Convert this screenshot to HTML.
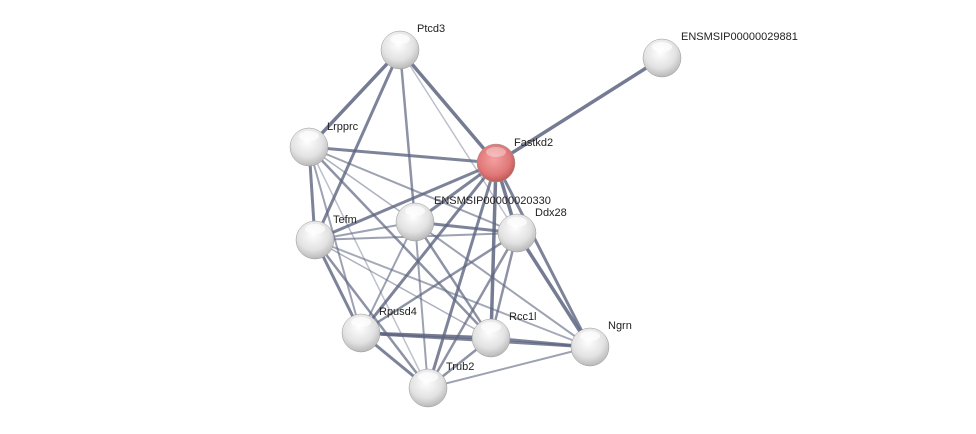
<!DOCTYPE html>
<html><head><style>body{margin:0;background:#fff}svg{display:block}text{font-family:"Liberation Sans",sans-serif;font-size:11px;fill:#222}</style></head><body>
<svg width="976" height="434" viewBox="0 0 976 434" xmlns="http://www.w3.org/2000/svg">
<defs>
<radialGradient id="g" cx="0.45" cy="0.35" r="0.7"><stop offset="0" stop-color="#ffffff"/><stop offset="0.6" stop-color="#e2e2e2"/><stop offset="1" stop-color="#b0b0b0"/></radialGradient>
<radialGradient id="r" cx="0.45" cy="0.4" r="0.7"><stop offset="0" stop-color="#f4a0a0"/><stop offset="0.6" stop-color="#e07878"/><stop offset="1" stop-color="#b04848"/></radialGradient>
</defs>
<g stroke="#5d6580" stroke-linecap="round">
<line x1="496" y1="163" x2="662" y2="58" stroke-width="3.5" opacity="0.85"/>
<line x1="400" y1="50" x2="309" y2="147" stroke-width="3.5" opacity="0.85"/>
<line x1="400" y1="50" x2="496" y2="163" stroke-width="3.5" opacity="0.85"/>
<line x1="400" y1="50" x2="315" y2="240" stroke-width="3" opacity="0.8"/>
<line x1="400" y1="50" x2="415" y2="222" stroke-width="2.5" opacity="0.7"/>
<line x1="400" y1="50" x2="517" y2="233" stroke-width="1.5" opacity="0.4"/>
<line x1="309" y1="147" x2="496" y2="163" stroke-width="3" opacity="0.8"/>
<line x1="309" y1="147" x2="315" y2="240" stroke-width="3" opacity="0.8"/>
<line x1="309" y1="147" x2="415" y2="222" stroke-width="1.5" opacity="0.5"/>
<line x1="309" y1="147" x2="517" y2="233" stroke-width="2" opacity="0.6"/>
<line x1="309" y1="147" x2="361" y2="333" stroke-width="2" opacity="0.6"/>
<line x1="309" y1="147" x2="491" y2="338" stroke-width="2.5" opacity="0.7"/>
<line x1="309" y1="147" x2="428" y2="388" stroke-width="1.5" opacity="0.4"/>
<line x1="496" y1="163" x2="315" y2="240" stroke-width="3" opacity="0.8"/>
<line x1="496" y1="163" x2="415" y2="222" stroke-width="3" opacity="0.8"/>
<line x1="496" y1="163" x2="517" y2="233" stroke-width="3.5" opacity="0.85"/>
<line x1="496" y1="163" x2="361" y2="333" stroke-width="3" opacity="0.8"/>
<line x1="496" y1="163" x2="491" y2="338" stroke-width="3.5" opacity="0.85"/>
<line x1="496" y1="163" x2="428" y2="388" stroke-width="3" opacity="0.8"/>
<line x1="496" y1="163" x2="590" y2="347" stroke-width="3" opacity="0.8"/>
<line x1="315" y1="240" x2="415" y2="222" stroke-width="2" opacity="0.6"/>
<line x1="315" y1="240" x2="517" y2="233" stroke-width="2" opacity="0.6"/>
<line x1="315" y1="240" x2="361" y2="333" stroke-width="3" opacity="0.8"/>
<line x1="315" y1="240" x2="428" y2="388" stroke-width="2.5" opacity="0.7"/>
<line x1="315" y1="240" x2="491" y2="338" stroke-width="1.5" opacity="0.5"/>
<line x1="315" y1="240" x2="590" y2="347" stroke-width="2" opacity="0.55"/>
<line x1="415" y1="222" x2="517" y2="233" stroke-width="3" opacity="0.8"/>
<line x1="415" y1="222" x2="361" y2="333" stroke-width="2" opacity="0.6"/>
<line x1="415" y1="222" x2="491" y2="338" stroke-width="2.5" opacity="0.7"/>
<line x1="415" y1="222" x2="428" y2="388" stroke-width="2" opacity="0.6"/>
<line x1="415" y1="222" x2="590" y2="347" stroke-width="2" opacity="0.6"/>
<line x1="517" y1="233" x2="361" y2="333" stroke-width="2.5" opacity="0.7"/>
<line x1="517" y1="233" x2="491" y2="338" stroke-width="2.5" opacity="0.7"/>
<line x1="517" y1="233" x2="428" y2="388" stroke-width="2.5" opacity="0.7"/>
<line x1="517" y1="233" x2="590" y2="347" stroke-width="3.5" opacity="0.85"/>
<line x1="361" y1="333" x2="491" y2="338" stroke-width="3.5" opacity="0.85"/>
<line x1="361" y1="333" x2="428" y2="388" stroke-width="3" opacity="0.8"/>
<line x1="361" y1="333" x2="590" y2="347" stroke-width="3" opacity="0.8"/>
<line x1="491" y1="338" x2="428" y2="388" stroke-width="2.5" opacity="0.7"/>
<line x1="491" y1="338" x2="590" y2="347" stroke-width="3" opacity="0.8"/>
<line x1="428" y1="388" x2="590" y2="347" stroke-width="2" opacity="0.6"/>
</g>
<g stroke="#999" stroke-width="0.5">
<circle cx="400" cy="50" r="19" fill="url(#g)"/>
<circle cx="662" cy="58" r="19" fill="url(#g)"/>
<circle cx="309" cy="147" r="19" fill="url(#g)"/>
<circle cx="496" cy="163" r="19" fill="url(#r)"/>
<circle cx="315" cy="240" r="19" fill="url(#g)"/>
<circle cx="415" cy="222" r="19" fill="url(#g)"/>
<circle cx="517" cy="233" r="19" fill="url(#g)"/>
<circle cx="361" cy="333" r="19" fill="url(#g)"/>
<circle cx="491" cy="338" r="19" fill="url(#g)"/>
<circle cx="590" cy="347" r="19" fill="url(#g)"/>
<circle cx="428" cy="388" r="19" fill="url(#g)"/>
</g>
<g fill="#fff" opacity="0.7">
<ellipse cx="400" cy="39" rx="10" ry="5"/>
<ellipse cx="662" cy="47" rx="10" ry="5"/>
<ellipse cx="309" cy="136" rx="10" ry="5"/>
<ellipse cx="496" cy="152" rx="10" ry="5" opacity="0.5"/>
<ellipse cx="315" cy="229" rx="10" ry="5"/>
<ellipse cx="415" cy="211" rx="10" ry="5"/>
<ellipse cx="517" cy="222" rx="10" ry="5"/>
<ellipse cx="361" cy="322" rx="10" ry="5"/>
<ellipse cx="491" cy="327" rx="10" ry="5"/>
<ellipse cx="590" cy="336" rx="10" ry="5"/>
<ellipse cx="428" cy="377" rx="10" ry="5"/>
</g>
<text x="417" y="32">Ptcd3</text>
<text x="681" y="40">ENSMSIP00000029881</text>
<text x="327" y="130">Lrpprc</text>
<text x="514" y="146">Fastkd2</text>
<text x="333" y="223">Tefm</text>
<text x="434" y="204">ENSMSIP00000020330</text>
<text x="535" y="216">Ddx28</text>
<text x="379" y="315">Rpusd4</text>
<text x="509" y="320">Rcc1l</text>
<text x="608" y="329">Ngrn</text>
<text x="446" y="370">Trub2</text>
</svg>
</body></html>
